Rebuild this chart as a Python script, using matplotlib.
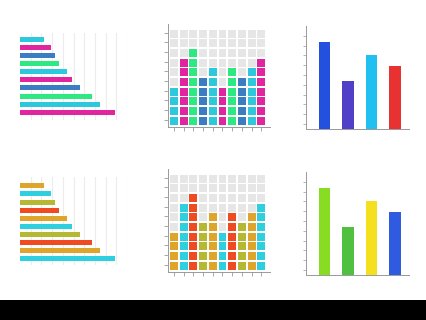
import matplotlib
matplotlib.use("Agg")
import matplotlib.pyplot as plt
from matplotlib.patches import Rectangle

W, H = 427, 320

# ---- data ----
hbar_values = [2.24, 2.9, 3.27, 3.64, 4.39, 4.86, 5.6, 6.73, 7.48, 8.88]  # top to bottom
hbar_colors_top = ["#2ec8dc", "#e0259f", "#3b7dc2", "#2ee882", "#2ec8dc",
                   "#e0259f", "#3b7dc2", "#2ee882", "#2ec8dc", "#e0259f"]
hbar_colors_bot = ["#dfa52a", "#2ed0e0", "#b5b832", "#f04a22", "#dfa52a",
                   "#2ed0e0", "#b5b832", "#f04a22", "#dfa52a", "#2ed0e0"]

grid_heights = [4, 7, 8, 5, 6, 4, 6, 5, 6, 7]
grid_colors_top = ["#2ec8dc", "#e0259f", "#2ee882", "#3b7dc2", "#2ec8dc",
                   "#e0259f", "#2ee882", "#3b7dc2", "#2ec8dc", "#e0259f"]
grid_colors_bot = ["#dfa52a", "#2ed0e0", "#f04a22", "#b5b832", "#dfa52a",
                   "#2ed0e0", "#f04a22", "#b5b832", "#dfa52a", "#2ed0e0"]

vbar_values = [8.85, 4.87, 7.5, 6.45]
vbar_colors_top = ["#2450e0", "#5040c8", "#22c0f0", "#e83232"]
vbar_colors_bot = ["#88dd22", "#50c040", "#f5e020", "#2e5be0"]

fig = plt.figure(figsize=(W / 100, H / 100), dpi=100)
fig.patch.set_facecolor("white")

def add_ax(x0, y0, x1, y1):
    return fig.add_axes([x0 / W, 1 - y1 / H, (x1 - x0) / W, (y1 - y0) / H])

def hbar_chart(x0, y0, x1, y1, colors, ylim):
    ax = add_ax(x0, y0, x1, y1)
    pos = list(range(len(hbar_values)))
    ax.barh(pos, hbar_values, height=0.62, color=colors, zorder=2)
    ax.set_xlim(0, 10)
    ax.set_ylim(*ylim)
    ax.invert_yaxis()
    for gx in range(1, 11):
        ax.axvline(gx, color="#ececec", lw=0.8, zorder=1)
    for s in ax.spines.values():
        s.set_visible(False)
    ax.set_xticks([]); ax.set_yticks([])
    ax.set_facecolor("none")
    return ax

def grid_chart(x0, y0, x1, y1, colors):
    ax = add_ax(x0, y0, x1, y1)
    n = len(grid_heights)
    g = 0.09
    for i in range(n):
        for r in range(10):
            c = colors[i] if r < grid_heights[i] else "#e6e6e6"
            ax.add_patch(Rectangle((i + g, r + g), 1 - 2 * g, 1 - 2 * g,
                                   facecolor=c, edgecolor="none"))
    ax.set_xlim(-0.12, 10.4)
    ax.set_ylim(-0.15, 10.5)
    ax.set_xticks([i + 0.5 for i in range(n)])
    ax.set_yticks([r + 0.6 for r in range(10)])
    ax.set_xticklabels([]); ax.set_yticklabels([])
    ax.tick_params(length=3, width=0.6, color="#999999")
    for k in ("top", "right"):
        ax.spines[k].set_visible(False)
    for k in ("left", "bottom"):
        ax.spines[k].set_color("#999999")
        ax.spines[k].set_linewidth(0.7)
    return ax

def vbar_chart(x0, y0, x1, y1, colors):
    ax = add_ax(x0, y0, x1, y1)
    pos = [0.8, 1.8, 2.8, 3.8]
    ax.bar(pos, vbar_values, width=0.49, color=colors)
    ax.set_xlim(0, 4.4)
    ax.set_ylim(0, 10.5)
    ax.set_xticks([])
    ax.set_yticks([k + 0.5 for k in range(10)])
    ax.set_yticklabels([])
    ax.tick_params(axis="y", length=2.5, width=0.6, color="#aaaaaa")
    for k in ("top", "right"):
        ax.spines[k].set_visible(False)
    for k in ("left", "bottom"):
        ax.spines[k].set_color("#999999")
        ax.spines[k].set_linewidth(0.7)
    return ax

hbar_chart(20, 33, 127, 120, hbar_colors_top, (-0.8, 9.97))
hbar_chart(20, 177, 127, 265, hbar_colors_bot, (-1.1, 9.8))
grid_chart(168, 24, 270, 127, grid_colors_top)
grid_chart(168, 169, 270, 272, grid_colors_bot)
vbar_chart(306, 26, 409, 129, vbar_colors_top)
vbar_chart(306, 172, 409, 275, vbar_colors_bot)

# black strip at bottom
strip = fig.add_axes([0, 0, 1, 20 / H])
strip.set_facecolor("black")
strip.set_xticks([]); strip.set_yticks([])
for s in strip.spines.values():
    s.set_visible(False)

fig.savefig("out.png", dpi=100, facecolor="white")
